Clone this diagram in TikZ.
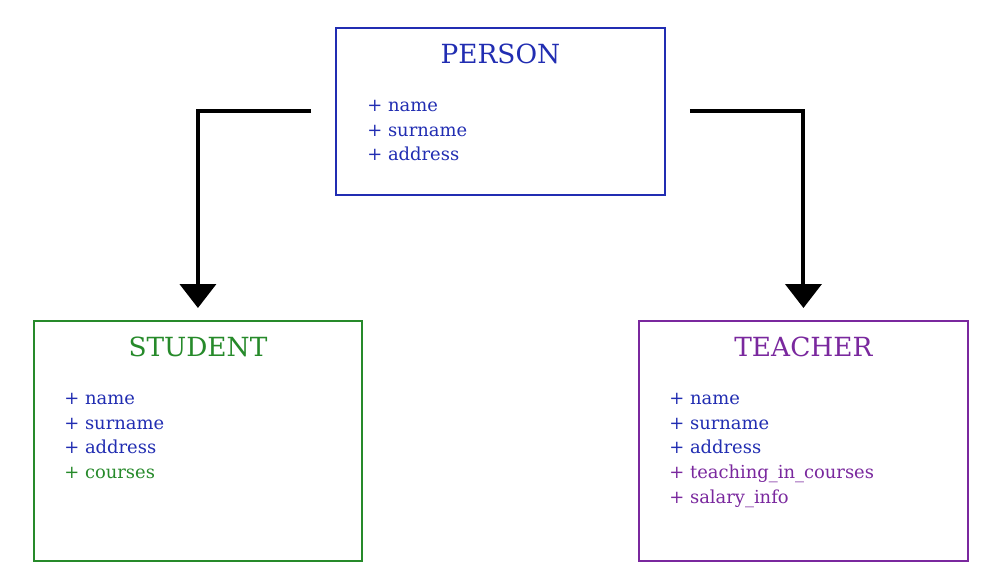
\documentclass[tikz,border=0pt]{standalone}
\usepackage{fontspec}
\setmainfont{DejaVu Serif}
\usetikzlibrary{arrows.meta, positioning, calc}
\definecolor{personblue}{RGB}{33,45,178}
\definecolor{studentgreen}{RGB}{38,138,42}
\definecolor{teacherpurple}{RGB}{122,40,158}
\tikzset{
    class_box/.style={
        rectangle, line width=1.1pt, fill=white, inner sep=0pt, anchor=north west
    },
    class_box_blue/.style={
        class_box, draw=personblue, minimum width=6.58cm, minimum height=3.34cm
    },
    class_box_green/.style={
        class_box, draw=studentgreen, minimum width=6.56cm, minimum height=4.80cm
    },
    class_box_purple/.style={
        class_box, draw=teacherpurple, minimum width=6.58cm, minimum height=4.80cm
    },
    class_title/.style={
        font=\fontsize{15}{17}\selectfont, inner sep=0pt
    },
    class_attrs/.style={
        font=\fontsize{10.2}{14.2}\selectfont, align=left, anchor=north west,
        inner sep=0pt, text=personblue
    },
    inherit_arrow/.style={
        -{Triangle[width=0.72cm, length=0.48cm]}, line width=0.08cm, draw=black
    }
}

\begin{document}
\begin{tikzpicture}[x=0.02cm, y=-0.02cm]

    \useasboundingbox (0,0) rectangle (1003,587);

    % classes
    \node[class_box_blue] (person) at (335, 27) {};
    \node[class_box_green] (student) at (33, 320) {};
    \node[class_box_purple] (teacher) at (638, 320) {};

    \node[class_title, text=personblue] (person_title) at ($(person.north)+(0,27)$) {PERSON};
    \node[class_title, text=studentgreen] (student_title) at ($(student.north)+(0,27)$) {STUDENT};
    \node[class_title, text=teacherpurple] (teacher_title) at ($(teacher.north)+(0,27)$) {TEACHER};

    \node[class_attrs] (person_attrs) at ($(person.north west)+(32,72.5)$)
        {+ name\\+ surname\\+ address};
    \node[class_attrs] (student_attrs) at ($(student.north west)+(31,72.5)$)
        {+ name\\+ surname\\+ address\\\textcolor{studentgreen}{+ courses}};
    \node[class_attrs] (teacher_attrs) at ($(teacher.north west)+(31,72.5)$)
        {+ name\\+ surname\\+ address\\\textcolor{teacherpurple}{+ teaching\_in\_courses}\\\textcolor{teacherpurple}{+ salary\_info}};

    % inheritance
    \draw[inherit_arrow, shorten <=0.48cm, shorten >=0.24cm] (person.west) -| (student.north);
    \draw[inherit_arrow, shorten <=0.48cm, shorten >=0.24cm] (person.east) -| (teacher.north);

\end{tikzpicture}
\end{document}
